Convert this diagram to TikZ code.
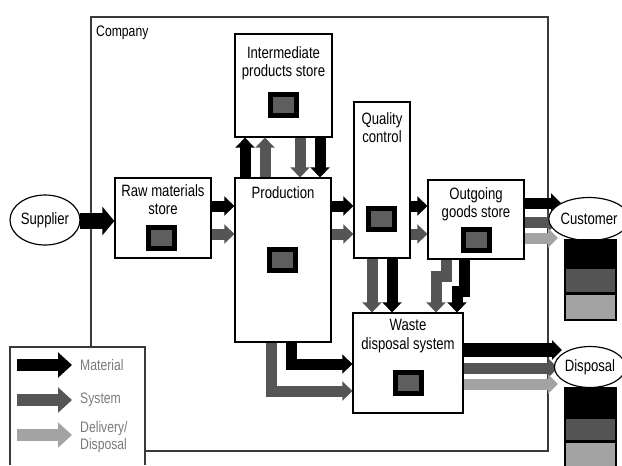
\documentclass[tikz,border=0pt]{standalone}
\usepackage{fontspec}
\setmainfont{Liberation Sans}[FakeStretch=0.8]
\usetikzlibrary{arrows.meta,fit,shapes.geometric}

\definecolor{sysgray}{HTML}{555555}
\definecolor{delgray}{HTML}{A3A3A3}
\definecolor{icongray}{HTML}{5E5E5E}
\definecolor{framegray}{HTML}{3A3A3A}
\definecolor{legtext}{HTML}{7A7A7A}

\tikzset{
  box/.style={draw=black, line width=1.1pt, fill=white, inner sep=0pt},
  icon/.style={draw=black, fill=icongray, line width=0.15cm, minimum width=0.78cm, minimum height=0.62cm, inner sep=0pt},
  lbl/.style={font=\fontsize{14}{15.5}\selectfont, align=center, inner sep=0pt, anchor=north},
  party/.style={ellipse, draw=black, line width=1pt, fill=white, inner sep=0pt, font=\fontsize{14}{16}\selectfont},
  flow/.style={line width=0.33cm, line join=miter, -{Triangle[length=0.3cm, width=0.57cm]}},
  mat/.style={flow, draw=black},
  sys/.style={flow, draw=sysgray},
  del/.style={flow, draw=delgray},
  legflow/.style={line width=0.36cm, -{Triangle[length=0.42cm, width=0.74cm]}},
  legtxt/.style={anchor=west, inner sep=0pt, text=legtext, align=left, font=\fontsize{13}{15}\selectfont},
}

\begin{document}
\begin{tikzpicture}[x=0.03cm, y=-0.03cm]
  \useasboundingbox (0,0) rectangle (622,465);

  % company frame and legend frame
  \draw[framegray, line width=1pt] (91,347) -- (91,17) -- (548,17) -- (548,451) -- (145,451);
  \draw[framegray, line width=1pt] (10,465) -- (10,347) -- (145,347) -- (145,465);
  \node[anchor=north west, inner sep=0pt, font=\fontsize{13}{15}\selectfont] (company) at (96,26) {Company};

  % stations
  \node[box, fit={(235,34) (332,137)}] (inter) {};
  \node[box, fit={(115,178) (211,258)}] (raw) {};
  \node[box, fit={(235,178) (331,342)}] (prod) {};
  \node[box, fit={(354,102) (410,258)}] (qual) {};
  \node[box, fit={(428,180) (524,259)}] (out) {};
  \node[box, fit={(353,313) (463,413)}] (waste) {};

  \node[lbl] (intertxt) at ([yshift=-0.39cm]inter.north) {Intermediate\\products store};
  \node[lbl] (rawtxt) at ([yshift=-0.21cm]raw.north) {Raw materials\\store};
  \node[lbl] (prodtxt) at ([yshift=-0.27cm]prod.north) {Production};
  \node[lbl] (qualtxt) at ([yshift=-0.33cm]qual.north) {Quality\\control};
  \node[lbl] (outtxt) at ([yshift=-0.24cm]out.north) {Outgoing\\goods store};
  \node[lbl] (wastetxt) at ([yshift=-0.21cm]waste.north) {Waste\\disposal system};

  \node[icon] (intericon) at (283,105) {};
  \node[icon] (rawicon) at (161,238) {};
  \node[icon] (prodicon) at (282,260) {};
  \node[icon] (qualicon) at (381,219) {};
  \node[icon] (outicon) at (476,240) {};
  \node[icon] (wasteicon) at (408,383) {};

  % flows
  \draw[mat, line width=0.5cm, -{Triangle[length=0.36cm, width=0.84cm]}] (80,221) -- (raw.west |- 0,221);

  \draw[mat] (raw.east |- 0,206) -- (prod.west |- 0,206);
  \draw[sys] (raw.east |- 0,234) -- (prod.west |- 0,234);
  \draw[mat] (prod.east |- 0,206) -- (qual.west |- 0,206);
  \draw[sys] (prod.east |- 0,234) -- (qual.west |- 0,234);
  \draw[mat] (qual.east |- 0,206) -- (out.west |- 0,206);
  \draw[sys] (qual.east |- 0,234) -- (out.west |- 0,234);

  \draw[mat] (prod.north -| 245,0) -- (inter.south -| 245,0);
  \draw[sys] (prod.north -| 265,0) -- (inter.south -| 265,0);
  \draw[sys] (inter.south -| 300,0) -- (prod.north -| 300,0);
  \draw[mat] (inter.south -| 320,0) -- (prod.north -| 320,0);

  \draw[sys] (qual.south -| 372,0) -- (waste.north -| 372,0);
  \draw[mat] (qual.south -| 392,0) -- (waste.north -| 392,0);

  \draw[sys] (out.south -| 446,0) |- (436,276) -- (waste.north -| 436,0);
  \draw[mat] (out.south -| 464,0) |- (457,291) -- (waste.north -| 457,0);

  \draw[mat] (prod.south -| 291,0) |- (waste.west |- 0,364);
  \draw[sys] (prod.south -| 271,0) |- (waste.west |- 0,391);

  \draw[mat] (out.east |- 0,203) -- (561,203);
  \draw[sys] (out.east |- 0,222) -- (558,222);
  \draw[del] (out.east |- 0,238) -- (558,238);

  \draw[mat, line width=0.42cm] (waste.east |- 0,350) -- (562,350);
  \draw[sys] (waste.east |- 0,368) -- (558,368);
  \draw[del] (waste.east |- 0,384) -- (558,384);

  % outside parties
  \node[party, minimum width=2.1cm, minimum height=1.5cm] (supplier) at (45,220) {Supplier};
  \node[party, minimum width=1.92cm, minimum height=1.29cm] (customer) at (589,219) {Customer};
  \node[party, minimum width=1.89cm, minimum height=1.23cm] (disposal) at (590,367) {Disposal};

  % stacks below customer and disposal
  \draw[black, line width=1pt, fill=black] (565,240) rectangle (616,268);
  \draw[black, line width=1pt, fill=sysgray] (565,268) rectangle (616,293);
  \draw[black, line width=1pt, fill=delgray] (565,294) rectangle (616,320);
  \draw[black, line width=1pt, fill=black] (565,388) rectangle (616,418);
  \draw[black, line width=1pt, fill=sysgray] (565,418) rectangle (616,441);
  \draw[black, line width=1pt, fill=delgray] (565,442) rectangle (616,468);

  % legend
  \coordinate (matA) at (17,365);
  \coordinate (matB) at (72,365);
  \coordinate (sysA) at (17,400);
  \coordinate (sysB) at (72,400);
  \coordinate (delA) at (17,435);
  \coordinate (delB) at (72,435);
  \draw[legflow, draw=black] (matA) -- (matB);
  \draw[legflow, draw=sysgray] (sysA) -- (sysB);
  \draw[legflow, draw=delgray] (delA) -- (delB);
  \node[legtxt] (mattxt) at (80,365) {Material};
  \node[legtxt] (systxt) at (80,400) {System};
  \node[legtxt] (deltxt) at (80,437) {Delivery/\\Disposal};
\end{tikzpicture}
\end{document}
